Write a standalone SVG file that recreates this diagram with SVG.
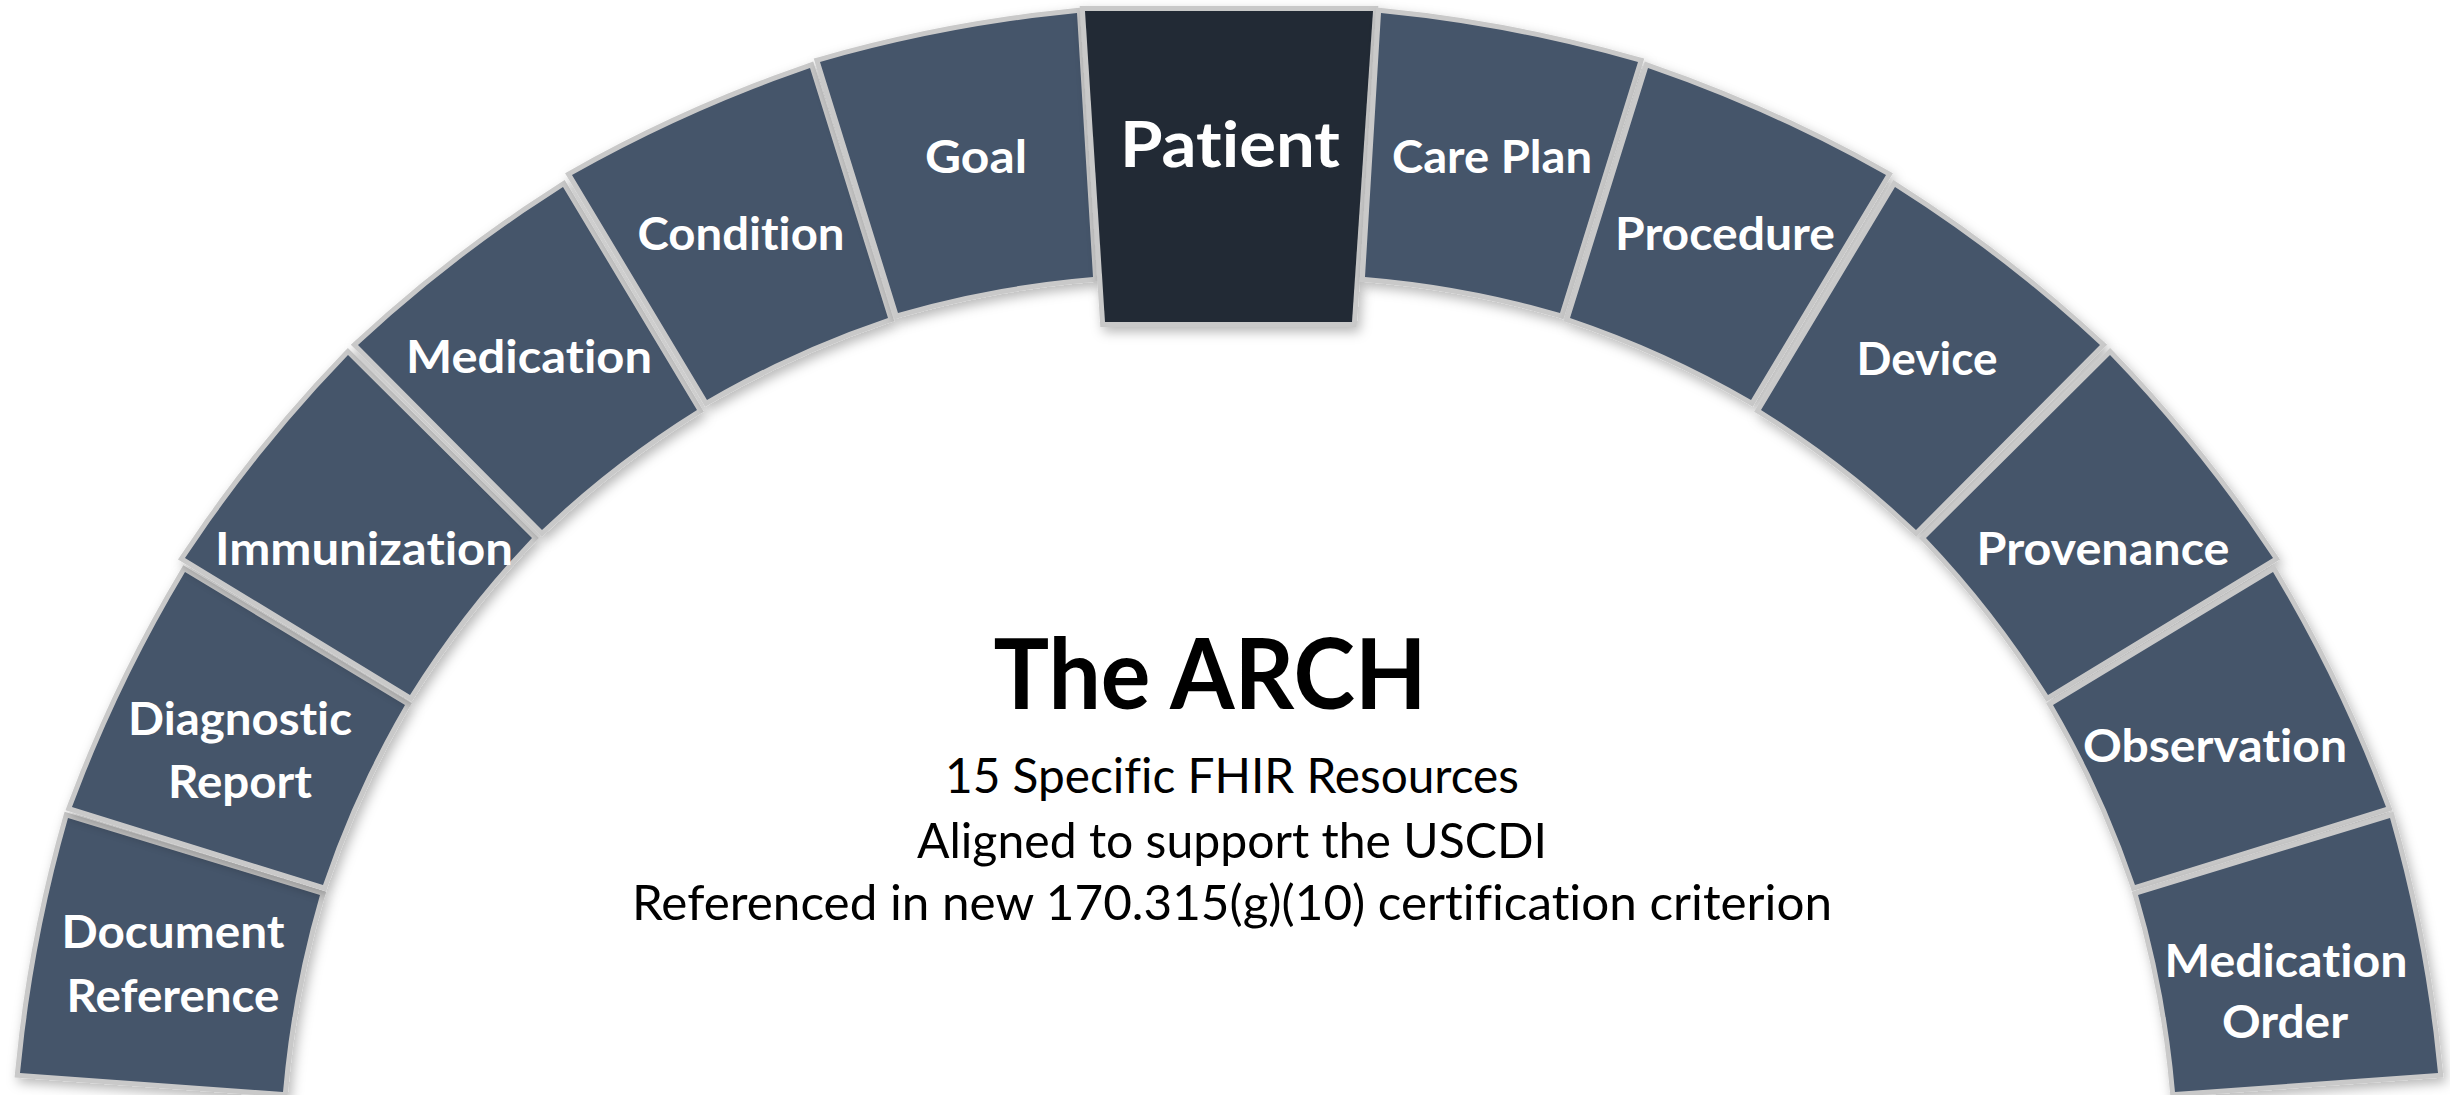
<svg xmlns="http://www.w3.org/2000/svg" width="2450" height="1095" viewBox="0 0 2450 1095">
  <defs>
    <filter id="shadow" x="-20%" y="-20%" width="140%" height="140%">
      <feDropShadow dx="3" dy="5" stdDeviation="6" flood-color="#000000" flood-opacity="0.28"/>
    </filter>
  </defs>
  <style>
    text { font-variant-ligatures: none; font-feature-settings: "liga" 0, "clig" 0; }
    .tile { fill: #44546a; stroke: #c9c9c9; stroke-width: 10; stroke-linejoin: miter; paint-order: stroke fill; filter: url(#shadow); }
    .tile.dark { fill: #222a35; }
    .lbl { font-family: "Lato", "Carlito", "Liberation Sans", sans-serif; font-weight: 700; font-size: 46px; fill: #ffffff; text-anchor: middle; }
    .big { font-size: 64px; }
    .title { font-family: "Lato", "Carlito", "Liberation Sans", sans-serif; font-weight: 700; font-size: 98px; fill: #000000; text-anchor: middle; }
    .sub { font-family: "Lato", "Carlito", "Liberation Sans", sans-serif; font-weight: 400; font-size: 48px; fill: #000000; text-anchor: middle; }
  </style>
  <rect x="0" y="0" width="2450" height="1095" fill="#ffffff"/>

  <g id="arch">
    <g id="document-reference">
      <path class="tile" d="M20,1073 Q32.3,942.7 68,818 L320,895 Q291.8,991 283,1092 Z"/>
      <text class="lbl" x="173" y="948" textLength="223" lengthAdjust="spacingAndGlyphs">Document</text>
      <text class="lbl" x="173" y="1012" textLength="213" lengthAdjust="spacingAndGlyphs">Reference</text>
    </g>
    <g id="diagnostic-report">
      <path class="tile" d="M72,807 Q117.7,684.2 185,572 L405,705 Q355.1,790.5 323,885 Z"/>
      <text class="lbl" x="240" y="735" textLength="224" lengthAdjust="spacingAndGlyphs">Diagnostic</text>
      <text class="lbl" x="240" y="798" textLength="144" lengthAdjust="spacingAndGlyphs">Report</text>
    </g>
    <g id="immunization">
      <path class="tile" d="M185,558 Q257.1,449 348,355 L532,538 Q463.2,610.2 410,695 Z"/>
      <text class="lbl" x="364" y="565" textLength="298" lengthAdjust="spacingAndGlyphs">Immunization</text>
    </g>
    <g id="medication">
      <path class="tile" d="M358,345 Q453,256.6 563,187 L697,410 Q613.2,462.2 542,530 Z"/>
      <text class="lbl" x="529" y="373" textLength="246" lengthAdjust="spacingAndGlyphs">Medication</text>
    </g>
    <g id="condition">
      <path class="tile" d="M572,175 Q685.8,110.7 810,68 L888,318 Q793.1,350 707,400 Z"/>
      <text class="lbl" x="741" y="250" textLength="207" lengthAdjust="spacingAndGlyphs">Condition</text>
    </g>
    <g id="goal">
      <path class="tile" d="M820,62 Q945.8,25.8 1077,13 L1093,277 Q993.1,285.3 898,313 Z"/>
      <text class="lbl" x="976" y="173" textLength="102" lengthAdjust="spacingAndGlyphs">Goal</text>
    </g>
    <g id="patient">
      <path class="tile dark" d="M1085,11 L1373,11 L1352,322 L1105,322 Z"/>
      <text class="lbl big" x="1230" y="167" textLength="220" lengthAdjust="spacingAndGlyphs">Patient</text>
    </g>
    <g id="care-plan">
      <path class="tile" d="M1638,62 Q1512.2,25.8 1381,13 L1365,277 Q1464.9,285.3 1560,313 Z"/>
      <text class="lbl" x="1492" y="173" textLength="200" lengthAdjust="spacingAndGlyphs">Care Plan</text>
    </g>
    <g id="procedure">
      <path class="tile" d="M1886,175 Q1772.2,110.7 1648,68 L1570,318 Q1664.9,350 1751,400 Z"/>
      <text class="lbl" x="1725" y="250" textLength="220" lengthAdjust="spacingAndGlyphs">Procedure</text>
    </g>
    <g id="device">
      <path class="tile" d="M2100,345 Q2005,256.6 1895,187 L1761,410 Q1844.8,462.2 1916,530 Z"/>
      <text class="lbl" x="1927" y="375" textLength="141" lengthAdjust="spacingAndGlyphs">Device</text>
    </g>
    <g id="provenance">
      <path class="tile" d="M2273,558 Q2200.9,449 2110,355 L1926,538 Q1994.8,610.2 2048,695 Z"/>
      <text class="lbl" x="2103" y="565" textLength="253" lengthAdjust="spacingAndGlyphs">Provenance</text>
    </g>
    <g id="observation">
      <path class="tile" d="M2386,807 Q2340.3,684.2 2273,572 L2053,705 Q2102.9,790.5 2135,885 Z"/>
      <text class="lbl" x="2215" y="762" textLength="264" lengthAdjust="spacingAndGlyphs">Observation</text>
    </g>
    <g id="medication-order">
      <path class="tile" d="M2438,1073 Q2425.7,942.7 2390,818 L2138,895 Q2166.2,991 2175,1092 Z"/>
      <text class="lbl" x="2286" y="977" textLength="243" lengthAdjust="spacingAndGlyphs">Medication</text>
      <text class="lbl" x="2285" y="1038" textLength="126" lengthAdjust="spacingAndGlyphs">Order</text>
    </g>
  </g>

  <g id="caption">
    <text class="title" x="1210" y="709" textLength="433" lengthAdjust="spacingAndGlyphs">The ARCH</text>
    <text class="sub" x="1232" y="793" textLength="574" lengthAdjust="spacingAndGlyphs">15 Specific FHIR Resources</text>
    <text class="sub" x="1232" y="858" textLength="630" lengthAdjust="spacingAndGlyphs">Aligned to support the USCDI</text>
    <text class="sub" x="1232" y="920" textLength="1200" lengthAdjust="spacingAndGlyphs">Referenced in new 170.315(g)(10) certification criterion</text>
  </g>
</svg>
